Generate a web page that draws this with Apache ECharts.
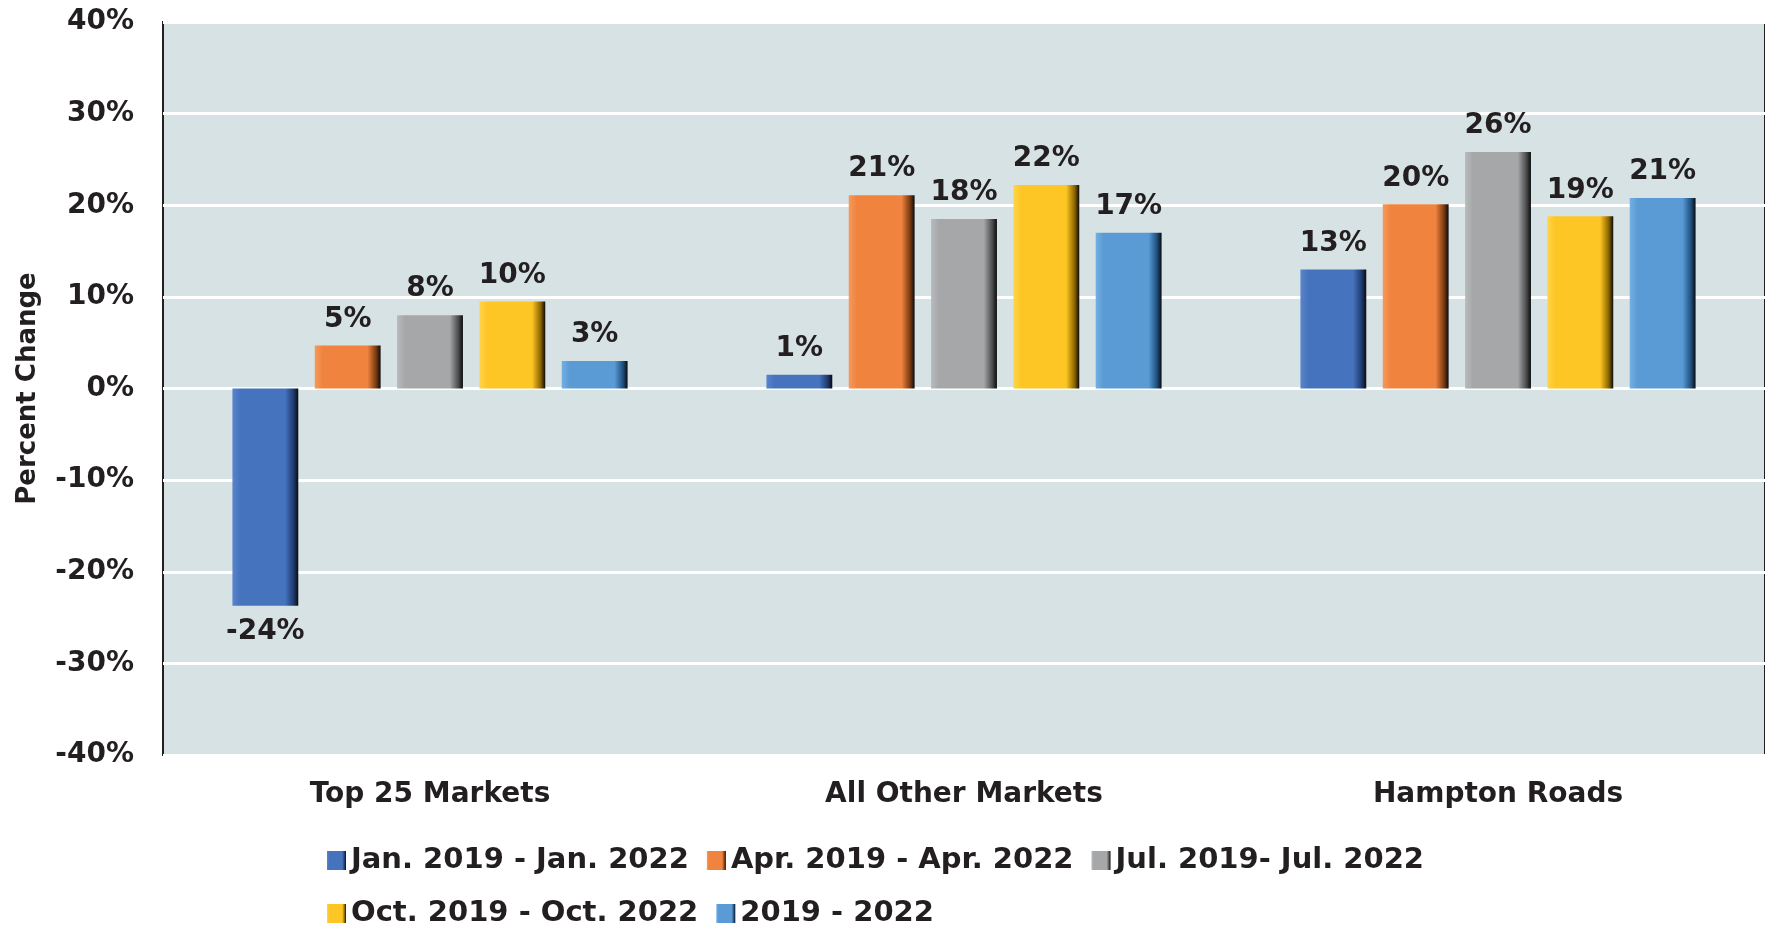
<!DOCTYPE html>
<html>
<head>
<meta charset="utf-8">
<script src="https://cdn.jsdelivr.net/npm/echarts@6/dist/echarts.min.js"></script>
<style>
  html, body { margin: 0; padding: 0; background: #fff; }
  #main { width: 1765px; height: 927px; }
</style>
</head>
<body>
<div id="main"></div>
<script>
// categories and series
var categories = ['Top 25 Markets', 'All Other Markets', 'Hampton Roads'];
var seriesNames = ['Jan. 2019 - Jan. 2022', 'Apr. 2019 - Apr. 2022', 'Jul. 2019- Jul. 2022', 'Oct. 2019 - Oct. 2022', '2019 - 2022'];
var janValues = [-23.7, 1.5, 13.0];
var aprValues = [4.7, 21.1, 20.1];
var julValues = [8.0, 18.5, 25.8];
var octValues = [9.5, 22.2, 18.8];
var yearValues = [3.0, 17.0, 20.8];
var labelText = [
  ['-24%', '1%', '13%'],
  ['5%', '21%', '20%'],
  ['8%', '18%', '26%'],
  ['10%', '22%', '19%'],
  ['3%', '17%', '21%']
];
var yTicks = [-40, -30, -20, -10, 0, 10, 20, 30, 40];

var baseColors = ['#4673be', '#f0843f', '#a5a7a8', '#fdc624', '#5a9bd5'];
var darkColors = ['#1d3a6e', '#7a3a10', '#4a4c4d', '#8a6500', '#1e4f7e'];
var lightColors = ['#5a84cc', '#f6995c', '#b8babb', '#ffd549', '#74afe2'];

var FONT = 'DejaVu Sans';
var TEXT = '#231f20';

// 基于准备好的dom，初始化echarts实例
var myChart = echarts.init(document.getElementById('main'));

var allValues = [janValues, aprValues, julValues, octValues, yearValues];

var series = allValues.map(function (vals, i) {
  var grad = new echarts.graphic.LinearGradient(0, 0, 1, 0, [
    { offset: 0, color: lightColors[i] },
    { offset: 0.12, color: baseColors[i] },
    { offset: 0.8, color: baseColors[i] },
    { offset: 0.93, color: darkColors[i] },
    { offset: 1, color: '#0b0b0b' }
  ]);
  return {
    name: seriesNames[i],
    type: 'bar',
    barGap: '25%',
    barCategoryGap: '26%',
    itemStyle: { color: grad },
    label: {
      show: true,
      distance: 12,
      fontFamily: FONT,
      fontWeight: 'bold',
      fontSize: 28,
      color: TEXT,
      formatter: function (p) { return labelText[i][p.dataIndex]; }
    },
    data: vals.map(function (v) {
      return { value: v, label: { position: v < 0 ? 'bottom' : 'top' } };
    })
  };
});

// 指定图表的配置项和数据
var option = {
  animation: false,
  legend: {
    left: 322,
    top: 838,
    width: 1250,
    itemWidth: 19,
    itemHeight: 19,
    itemGap: 18,
    icon: 'rect',
    textStyle: {
      fontFamily: FONT,
      fontWeight: 'bold',
      fontSize: 29,
      color: TEXT,
      lineHeight: 35
    },
    data: seriesNames
  },
  grid: {
    left: 163,
    top: 22,
    right: -10,
    bottom: 172,
    show: true,
    backgroundColor: '#d7e2e5',
    borderColor: '#231f20',
    borderWidth: 2
  },
  xAxis: {
    type: 'category',
    data: categories,
    axisLine: { show: false },
    axisTick: { show: false },
    axisLabel: {
      margin: 26,
      fontFamily: FONT,
      fontWeight: 'bold',
      fontSize: 28,
      color: TEXT
    }
  },
  yAxis: {
    type: 'value',
    min: yTicks[0],
    max: yTicks[yTicks.length - 1],
    interval: 10,
    name: 'Percent Change',
    nameLocation: 'middle',
    nameGap: 122,
    nameTextStyle: {
      fontFamily: FONT,
      fontWeight: 'bold',
      fontSize: 26,
      color: TEXT
    },
    axisLine: { show: false },
    axisTick: { show: false },
    splitLine: { lineStyle: { color: '#ffffff', width: 3 } },
    axisLabel: {
      margin: 29,
      fontFamily: FONT,
      fontWeight: 'bold',
      fontSize: 28,
      color: TEXT,
      formatter: '{value}%'
    }
  },
  series: series
};

// 使用刚指定的配置项和数据显示图表。
myChart.setOption(option);
</script>
</body>
</html>
